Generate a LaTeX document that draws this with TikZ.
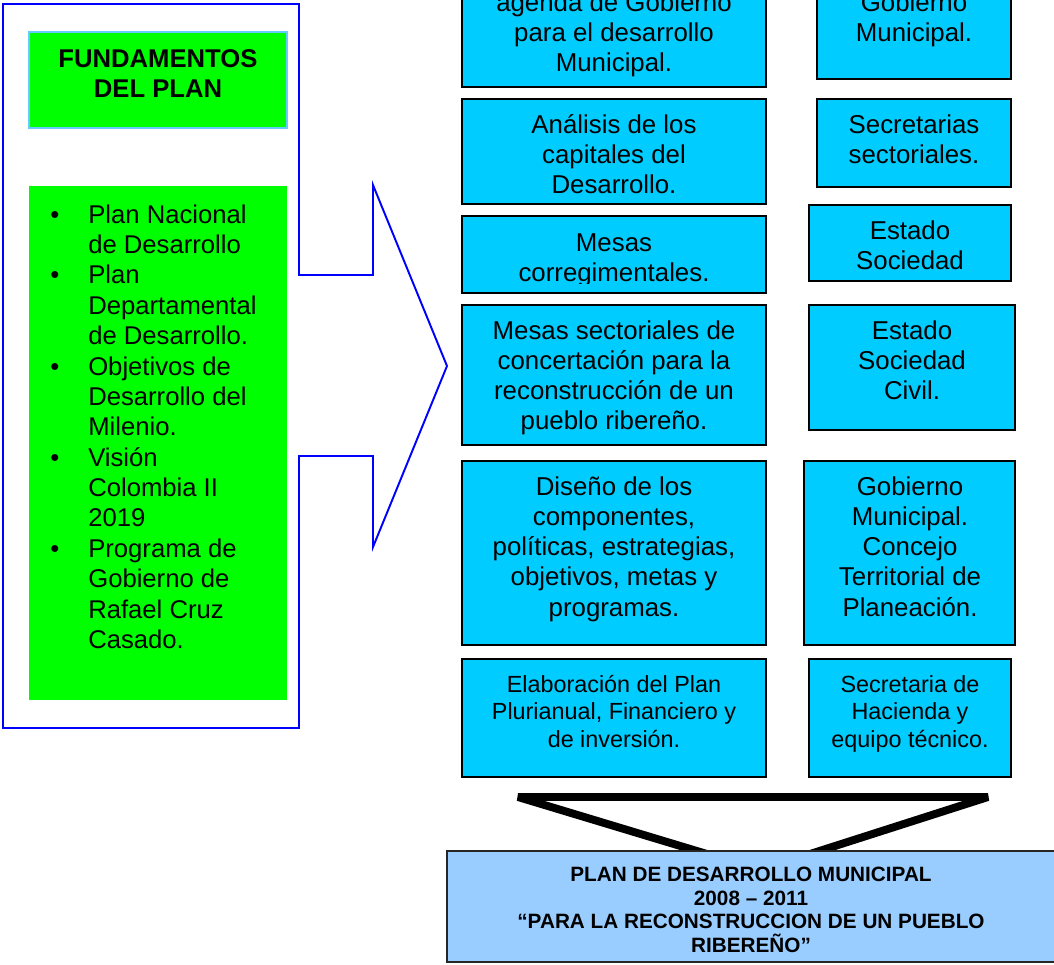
\documentclass[tikz,border=0pt]{standalone}
\usepackage{fontspec}
\setmainfont{Liberation Sans}
\usepackage{tikz}
\usetikzlibrary{positioning, fit}
\tikzset{>=stealth}
\definecolor{boxcyan}{RGB}{0,204,255}
\definecolor{planblue}{RGB}{153,204,255}
\definecolor{fundgreen}{RGB}{0,255,0}
\definecolor{fundedge}{RGB}{102,204,255}
\newcommand{\bigstrut}{\rule{0pt}{14pt}}
\newcommand{\smallstrut}{\rule{0pt}{13pt}}
\newcommand{\planstrut}{\rule{0pt}{11pt}}

\begin{document}
\begin{tikzpicture}[x=0.02cm, y=-0.02cm,
  pbox/.style={draw=black, line width=1.2pt, fill=boxcyan, inner sep=0pt},
  ptext/.style={font=\fontsize{14.7}{17.1}\selectfont, align=center, inner sep=0pt, anchor=north},
  stext/.style={font=\fontsize{13.3}{15.65}\selectfont, align=center, inner sep=0pt, anchor=north}]
  \useasboundingbox (0,0) rectangle (1054,964);
  \clip (0,0) rectangle (1054,964);

  % fundamentos
  \draw[blue, line width=1.1pt] (3,4)--(299,4)--(299,275)--(373,275)--(373,185)--(447,366)
      --(373,547)--(373,456)--(299,456)--(299,728)--(3,728)--cycle;
  \node[draw=fundedge, line width=0.9pt, fill=fundgreen, inner sep=0pt, fit={(29,32) (287,128)}] (fund) {};
  \node[font=\fontsize{14.6}{17.1}\selectfont\bfseries, align=center, inner sep=0pt, anchor=north]
      (fundtxt) at (158,42.4) {\bigstrut FUNDAMENTOS\\DEL PLAN};
  \node[fill=fundgreen, inner sep=0pt, fit={(29,186) (287,700)}] (items) {};
  \node[font=\fontsize{14.6}{17.3}\selectfont, inner sep=0pt, anchor=north west] (itemtxt) at (50,201.4) {%
    \begin{tabular}{@{}p{21.6pt}@{}l@{}}
      \textbullet & Plan Nacional\\
                  & de Desarrollo\\
      \textbullet & Plan\\
                  & Departamental\\
                  & de Desarrollo.\\
      \textbullet & Objetivos de\\
                  & Desarrollo del\\
                  & Milenio.\\
      \textbullet & Visión\\
                  & Colombia II\\
                  & 2019\\
      \textbullet & Programa de\\
                  & Gobierno de\\
                  & Rafael Cruz\\
                  & Casado.
    \end{tabular}};

  % left column
  \node[pbox, fit={(462,-40) (766,87)}] (agenda) {};
  \node[ptext] (agendatxt) at (614,-13.6) {\bigstrut agenda de Gobierno\\para el desarrollo\\Municipal.};
  \node[pbox, fit={(462,99) (766,204)}] (analisis) {};
  \node[ptext] (analisistxt) at (614,108.4) {\bigstrut Análisis de los\\capitales del\\Desarrollo.};
  \node[pbox, fit={(462,216) (766,293)}] (mesas) {};
  \begin{scope}
    \clip (462,216) rectangle (766,283);
    \node[ptext] (mesastxt) at (614,226.9) {\bigstrut Mesas\\corregimentales.};
  \end{scope}
  \node[pbox, fit={(462,305) (766,445)}] (sectoriales) {};
  \node[ptext] (sectorialestxt) at (614,314.9) {\bigstrut Mesas sectoriales de\\concertación para la\\reconstrucción de un\\pueblo ribereño.};
  \node[pbox, fit={(462,461) (766,645)}] (diseno) {};
  \node[ptext] (disenotxt) at (614,470.9) {\bigstrut Diseño de los\\componentes,\\políticas, estrategias,\\objetivos, metas y\\programas.};
  \node[pbox, fit={(462,659) (766,777)}] (plurianual) {};
  \node[stext] (plurianualtxt) at (614,669.2) {\smallstrut Elaboración del Plan\\Plurianual, Financiero y\\de inversión.};

  % right column
  \node[pbox, fit={(817,-40) (1011,79)}] (gobierno) {};
  \node[ptext] (gobiernotxt) at (914,-13.6) {\bigstrut Gobierno\\Municipal.};
  \node[pbox, fit={(817,99) (1011,187)}] (secretarias) {};
  \node[ptext] (secretariastxt) at (914,108.4) {\bigstrut Secretarias\\sectoriales.};
  \node[pbox, fit={(809,205) (1011,281)}] (estado) {};
  \node[ptext] (estadotxt) at (910,214.4) {\bigstrut Estado\\Sociedad};
  \node[pbox, fit={(809,305) (1015,430)}] (civil) {};
  \node[ptext] (civiltxt) at (912,314.9) {\bigstrut Estado\\Sociedad\\Civil.};
  \node[pbox, fit={(804,461) (1015,645)}] (concejo) {};
  \node[ptext] (concejotxt) at (910,470.9) {\bigstrut Gobierno\\Municipal.\\Concejo\\Territorial de\\Planeación.};
  \node[pbox, fit={(809,659) (1011,777)}] (hacienda) {};
  \node[stext] (haciendatxt) at (910,669.2) {\smallstrut Secretaria de\\Hacienda y\\equipo técnico.};

  % plan
  \draw[line width=4.5pt, line join=bevel] (518,797)--(988,797)--(760,870)--cycle;
  \node[draw=black!85, line width=0.9pt, fill=planblue, inner sep=0pt, fit={(447,851) (1055,962)}] (plan) {};
  \node[font=\fontsize{11.8}{13.5}\selectfont\bfseries, align=center, inner sep=0pt, anchor=north]
      (plantxt) at (751,861.7) {\planstrut PLAN DE DESARROLLO MUNICIPAL\\2008 – 2011\\“PARA LA RECONSTRUCCION DE UN PUEBLO\\RIBEREÑO”};
\end{tikzpicture}
\end{document}
